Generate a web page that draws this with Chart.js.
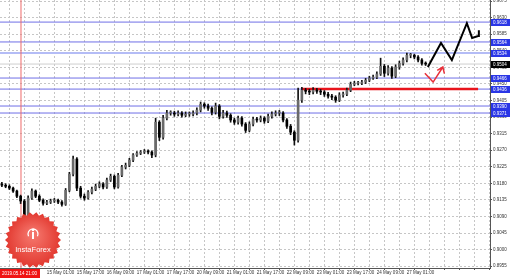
<!DOCTYPE html>
<html>
<head>
<meta charset="utf-8">
<script src="https://cdn.jsdelivr.net/npm/chart.js@4.4.1/dist/chart.umd.min.js"></script>
<style>
html, body { margin: 0; padding: 0; background: #fff; }
#plot { display: block; }
</style>
</head>
<body>
<canvas id="plot" width="510" height="278"></canvas>
<script>
// H2 candles, EUR/CHF style quotes
const opens = [
  0.9178,0.9175,0.9172,0.9167,0.9159,0.9145,0.9132,0.9091,0.9140,0.9159,
  0.9145,0.9134,0.9126,0.9129,0.9132,0.9134,0.9129,0.9123,0.9161,0.9205,
  0.9246,0.9167,0.9145,0.9140,0.9156,0.9164,0.9172,0.9178,0.9170,0.9189,
  0.9199,0.9170,0.9202,0.9224,0.9229,0.9243,0.9257,0.9262,0.9265,0.9267,
  0.9265,0.9257,0.9346,0.9305,0.9357,0.9371,0.9371,0.9368,0.9371,0.9365,
  0.9368,0.9368,0.9371,0.9379,0.9395,0.9390,0.9384,0.9373,0.9390,0.9362,
  0.9371,0.9365,0.9352,0.9346,0.9357,0.9341,0.9324,0.9341,0.9354,0.9352,
  0.9357,0.9349,0.9362,0.9368,0.9371,0.9371,0.9352,0.9335,0.9319,0.9297,
  0.9406,0.9433,0.9430,0.9428,0.9433,0.9430,0.9428,0.9422,0.9417,0.9414,
  0.9406,0.9420,0.9422,0.9433,0.9449,0.9452,0.9452,0.9455,0.9460,0.9466,
  0.9468,0.9477,0.9498,0.9479,0.9493,0.9471,0.9496,0.9506,0.9515,0.9528,
  0.9528,0.9523,0.9515,0.9506
]
const highs = [
  0.9183,0.9179,0.9176,0.9170,0.9162,0.9148,0.9136,0.9146,0.9165,0.9162,
  0.9149,0.9138,0.9134,0.9137,0.9139,0.9137,0.9133,0.9166,0.9210,0.9254,
  0.9250,0.9172,0.9151,0.9160,0.9170,0.9178,0.9184,0.9182,0.9194,0.9205,
  0.9203,0.9207,0.9229,0.9235,0.9248,0.9261,0.9266,0.9269,0.9272,0.9271,
  0.9268,0.9357,0.9350,0.9365,0.9378,0.9377,0.9376,0.9377,0.9375,0.9374,
  0.9374,0.9377,0.9385,0.9401,0.9399,0.9395,0.9388,0.9398,0.9394,0.9378,
  0.9376,0.9369,0.9357,0.9363,0.9361,0.9345,0.9347,0.9360,0.9359,0.9363,
  0.9361,0.9368,0.9374,0.9377,0.9378,0.9375,0.9356,0.9340,0.9323,0.9439,
  0.9441,0.9438,0.9436,0.9440,0.9438,0.9435,0.9432,0.9427,0.9422,0.9418,
  0.9426,0.9428,0.9439,0.9455,0.9457,0.9457,0.9460,0.9465,0.9471,0.9474,
  0.9483,0.9520,0.9503,0.9500,0.9497,0.9502,0.9512,0.9521,0.9534,0.9533,
  0.9531,0.9527,0.9519,0.9510
]
const lows = [
  0.9171,0.9168,0.9163,0.9155,0.9141,0.9125,0.9077,0.9088,0.9136,0.9141,
  0.9130,0.9121,0.9122,0.9125,0.9128,0.9125,0.9118,0.9120,0.9157,0.9200,
  0.9160,0.9140,0.9134,0.9137,0.9151,0.9160,0.9168,0.9165,0.9166,0.9185,
  0.9165,0.9167,0.9198,0.9219,0.9225,0.9239,0.9253,0.9258,0.9261,0.9260,
  0.9250,0.9252,0.9296,0.9300,0.9352,0.9365,0.9362,0.9363,0.9360,0.9361,
  0.9362,0.9363,0.9366,0.9374,0.9384,0.9378,0.9366,0.9368,0.9355,0.9357,
  0.9359,0.9346,0.9340,0.9341,0.9335,0.9318,0.9320,0.9336,0.9346,0.9347,
  0.9343,0.9345,0.9357,0.9363,0.9364,0.9347,0.9329,0.9312,0.9284,0.9292,
  0.9400,0.9423,0.9421,0.9423,0.9424,0.9421,0.9416,0.9411,0.9407,0.9400,
  0.9402,0.9414,0.9418,0.9429,0.9445,0.9447,0.9448,0.9451,0.9456,0.9462,
  0.9464,0.9473,0.9470,0.9474,0.9465,0.9467,0.9490,0.9501,0.9510,0.9521,
  0.9518,0.9510,0.9501,0.9500
]
const closes = [
  0.9175,0.9172,0.9167,0.9159,0.9145,0.9132,0.9091,0.9140,0.9159,0.9145,
  0.9134,0.9126,0.9129,0.9132,0.9134,0.9129,0.9123,0.9161,0.9205,0.9246,
  0.9167,0.9145,0.9140,0.9156,0.9164,0.9172,0.9178,0.9170,0.9189,0.9199,
  0.9170,0.9202,0.9224,0.9229,0.9243,0.9257,0.9262,0.9265,0.9267,0.9265,
  0.9257,0.9346,0.9305,0.9357,0.9371,0.9371,0.9368,0.9371,0.9365,0.9368,
  0.9368,0.9371,0.9379,0.9395,0.9390,0.9384,0.9373,0.9390,0.9362,0.9371,
  0.9365,0.9352,0.9346,0.9357,0.9341,0.9324,0.9341,0.9354,0.9352,0.9357,
  0.9349,0.9362,0.9368,0.9371,0.9371,0.9352,0.9335,0.9319,0.9297,0.9406,
  0.9433,0.9430,0.9428,0.9433,0.9430,0.9428,0.9422,0.9417,0.9414,0.9406,
  0.9420,0.9422,0.9433,0.9449,0.9452,0.9452,0.9455,0.9460,0.9466,0.9468,
  0.9477,0.9498,0.9479,0.9493,0.9471,0.9496,0.9506,0.9515,0.9528,0.9528,
  0.9523,0.9515,0.9506,0.9504
]

// price axis
const yTicks = [0.9675,0.9630,0.9585,0.9540,0.9495,0.9450,0.9405,0.9360,0.9315,
                0.9270,0.9225,0.9180,0.9135,0.9090,0.9045,0.9000,0.8955]
// time axis (bar index -> label)
const xLabelIdx = [12,20,28,36,44,52,60,68,76,84,92,100,108]
const xLabelText = ['15 May 01:00','15 May 17:00','16 May 09:00','17 May 01:00','17 May 17:00',
                    '20 May 09:00','21 May 01:00','21 May 17:00','22 May 09:00','23 May 01:00',
                    '23 May 17:00','24 May 09:00','27 May 01:00']
const markerDate = '2019.05.14 21:00'

// levels drawn on the chart
const blueLevels = [0.9618, 0.9564, 0.9466, 0.9436, 0.9390, 0.9371]
const lightLevel = 0.9534
const currentPrice = 0.9504
const redLevel = 0.9436
const redLevelFrom = 80
const markerIdx = 5.1

// forecast drawings
const zigzagX = [113.6, 117.1, 120.0, 124.0, 125.4, 127.0, 127.2]
const zigzagY = [0.9496, 0.9561, 0.9515, 0.9615, 0.9575, 0.9580, 0.9596]
const arrowX = [112.8, 115.0, 117.6, null, 116.1, 117.6, 118.0]
const arrowY = [0.9479, 0.9455, 0.9496, null, 0.9487, 0.9496, 0.9478]

const X_MIN = -0.5, X_MAX = 130.17
const Y_MIN = 0.8950, Y_MAX = 0.9678

const idx = closes.map((c, i) => i)

function hline(v, from, to) {
    return [{x: from, y: v}, {x: to, y: v}]
}

const datasets = []
blueLevels.forEach(v => {
    datasets.push({type: 'line', data: hline(v, X_MIN, X_MAX), borderColor: '#6f6fe6', borderWidth: 1, pointRadius: 0, order: 20})
})
datasets.push({type: 'line', data: hline(lightLevel, X_MIN, X_MAX), borderColor: '#b4bcf6', borderWidth: 2, pointRadius: 0, order: 20})
datasets.push({type: 'line', data: hline(currentPrice, X_MIN, X_MAX), borderColor: '#cfcfcf', borderWidth: 1, pointRadius: 0, order: 20})
datasets.push({type: 'line', data: [{x: markerIdx, y: Y_MIN}, {x: markerIdx, y: Y_MAX}], borderColor: '#ee6a6a', borderWidth: 1, pointRadius: 0, order: 19})
datasets.push({type: 'line', data: hline(redLevel, redLevelFrom, 127), borderColor: '#e8141c', borderWidth: 2.5, pointRadius: 0, order: 18})

// wicks and bodies
datasets.push({
    type: 'bar', grouped: false, order: 6,
    data: idx.map(i => ({x: i, y: [lows[i], highs[i]]})),
    backgroundColor: '#111', borderWidth: 0, barThickness: 1
})
datasets.push({
    type: 'bar', grouped: false, order: 5,
    data: idx.map(i => ({x: i, y: [opens[i], closes[i]]})),
    backgroundColor: ctx => closes[ctx.dataIndex] >= opens[ctx.dataIndex] ? '#6a6a6a' : '#000000',
    borderWidth: 0, barThickness: 2, minBarLength: 1
})

datasets.push({type: 'line', data: zigzagX.map((x, i) => ({x: x, y: zigzagY[i]})), borderColor: '#000', borderWidth: 2, pointRadius: 0, order: 1})
datasets.push({type: 'line', data: arrowX.map((x, i) => ({x: x, y: arrowY[i]})), borderColor: '#e8303a', borderWidth: 1.5, pointRadius: 0, spanGaps: false, order: 1})

const labelMap = {}
xLabelIdx.forEach((v, i) => { labelMap[v] = xLabelText[i] })

// logo, boxed price labels and marker date
const overlay = {
    id: 'overlay',
    afterDatasetsDraw(chart) {
        const ctx = chart.ctx
        const cx = 33, cy = 240, ro = 28, ri = 25, n = 26
        ctx.save()
        ctx.beginPath()
        for (let k = 0; k < n * 2; k++) {
            const r = k % 2 ? ri : ro
            const a = Math.PI * k / n
            ctx.lineTo(cx + r * Math.cos(a), cy + r * Math.sin(a))
        }
        ctx.closePath()
        const g = ctx.createRadialGradient(cx, cy - 6, 3, cx, cy, ro)
        g.addColorStop(0, '#f4746a')
        g.addColorStop(1, '#e2382f')
        ctx.fillStyle = g
        ctx.fill()
        // little icon
        ctx.strokeStyle = '#fff'
        ctx.fillStyle = '#fff'
        ctx.lineWidth = 1.3
        ctx.beginPath()
        ctx.arc(cx, cy - 6, 5, Math.PI * 0.15, Math.PI * 0.85, true)
        ctx.stroke()
        ctx.fillRect(cx - 1, cy - 8, 2, 7)
        ctx.beginPath()
        ctx.arc(cx, cy - 10, 1.3, 0, Math.PI * 2)
        ctx.fill()
        ctx.font = '7.5px "Liberation Sans"'
        ctx.textAlign = 'center'
        ctx.textBaseline = 'middle'
        ctx.fillText('InstaForex', cx, cy + 10)
        ctx.restore()
    },
    afterDraw(chart) {
        const ctx = chart.ctx
        const y = chart.scales.y
        const right = chart.chartArea.right
        ctx.save()
        ctx.font = '4.5px "Liberation Sans"'
        ctx.textBaseline = 'middle'
        ctx.textAlign = 'left'
        const boxes = blueLevels.concat([lightLevel]).map(v => [v, '#2a36e6'])
        boxes.push([currentPrice, '#000'])
        boxes.forEach(([v, col]) => {
            const py = Math.round(y.getPixelForValue(v))
            ctx.fillStyle = col
            ctx.fillRect(right + 1, py - 3, 19, 7)
            ctx.fillStyle = '#fff'
            ctx.fillText(v.toFixed(4), right + 3, py + 0.5)
        })
        // marker date on the time axis
        const bottom = chart.chartArea.bottom
        ctx.fillStyle = '#f01414'
        ctx.fillRect(0, bottom + 1, 40, 9)
        ctx.fillStyle = '#fff'
        ctx.fillText(markerDate, 2, bottom + 5.5)
        ctx.restore()
    }
}

const axisFont = {family: 'Liberation Sans', size: 4.5}

const ctx = document.getElementById('plot').getContext('2d')
const chart = new Chart(ctx, {
    type: 'bar',
    data: {datasets: datasets},
    plugins: [overlay],
    options: {
        responsive: false,
        devicePixelRatio: 1,
        animation: false,
        layout: {padding: 0},
        plugins: {legend: {display: false}, tooltip: {enabled: false}},
        scales: {
            x: {
                type: 'linear', position: 'bottom', min: X_MIN, max: X_MAX, offset: false,
                afterBuildTicks: scale => {
                    const t = []
                    for (let v = 0; v <= 128; v += 4) t.push({value: v})
                    scale.ticks = t
                },
                afterFit: scale => {
                    scale.height = 10
                    scale.paddingLeft = 0
                    scale.paddingRight = 0
                },
                ticks: {
                    autoSkip: false, maxRotation: 0, minRotation: 0, align: 'start', padding: 0,
                    color: '#333', font: axisFont,
                    callback: v => labelMap[v] || ''
                },
                grid: {color: '#c6c6c6', drawTicks: true, tickLength: 2, tickColor: '#555'},
                border: {display: true, color: '#555', width: 1, dash: [2, 2]}
            },
            y: {
                type: 'linear', position: 'right', min: Y_MIN, max: Y_MAX,
                afterBuildTicks: scale => {
                    scale.ticks = yTicks.map(v => ({value: v}))
                },
                afterFit: scale => {
                    scale.width = 20
                    scale.paddingTop = 0
                    scale.paddingBottom = 0
                },
                ticks: {
                    padding: 1, color: '#333', font: axisFont,
                    callback: v => v.toFixed(4)
                },
                grid: {color: '#c6c6c6', drawTicks: true, tickLength: 2, tickColor: '#555'},
                border: {display: true, color: '#555', width: 1, dash: [2, 2]}
            }
        }
    }
})
</script>
</body>
</html>
